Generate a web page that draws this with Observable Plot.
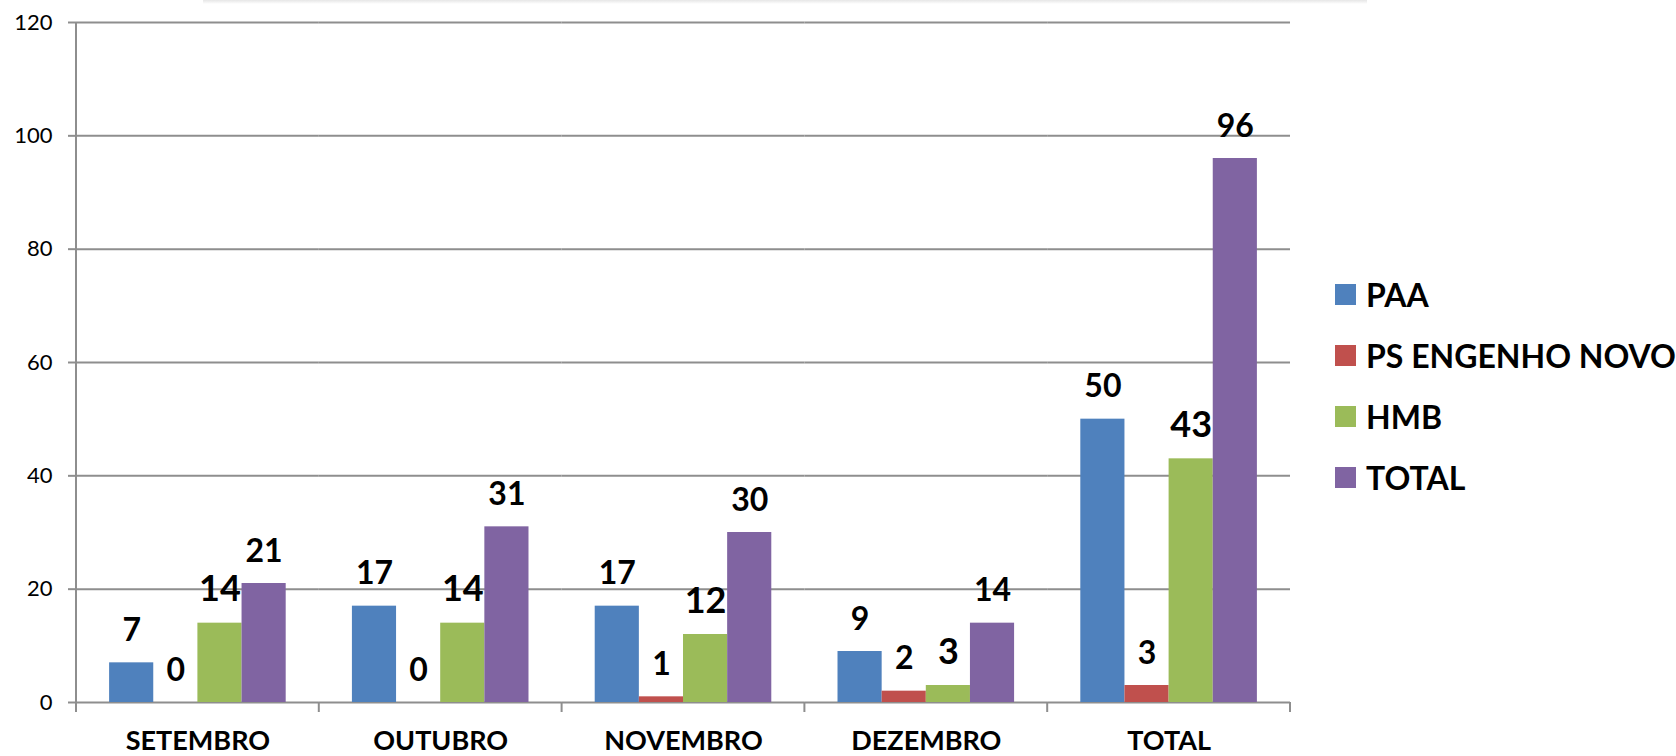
<!DOCTYPE html>
<html>
<head>
<meta charset="utf-8">
<script src="https://cdn.jsdelivr.net/npm/d3@7"></script>
<script src="https://cdn.jsdelivr.net/npm/@observablehq/plot@0.6"></script>
<style>
  html, body { margin: 0; padding: 0; background: #fff; overflow: hidden; }
  #wrap { position: relative; width: 1676px; height: 756px; font-family: Lato, "Open Sans", sans-serif; }
  #shadow { position: absolute; left: 203px; top: 0; width: 1164px; height: 4px;
            background: linear-gradient(#e6e6e6, rgba(255,255,255,0)); }
  #chart svg { display: block; }
  #legend { position: absolute; left: 1335px; top: 264px; }
  .item { display: flex; align-items: center; height: 61px; font-size: 32px; font-weight: 700; color: #000; white-space: nowrap; }
  .sw { width: 21px; height: 21px; margin-right: 10px; flex: none; }
</style>
</head>
<body>
<div id="wrap">
  <div id="chart"></div>
  <div id="shadow"></div>
  <div id="legend"></div>
</div>
<script>
const categories = ["SETEMBRO", "OUTUBRO", "NOVEMBRO", "DEZEMBRO", "TOTAL"];
const series = ["PAA", "PS ENGENHO NOVO", "HMB", "TOTAL"];
const colors = ["#4F81BD", "#C0504D", "#9BBB59", "#8064A2"];
const paa = [7, 17, 17, 9, 50];
const psEngenhoNovo = [0, 0, 1, 2, 3];
const hmb = [14, 14, 12, 3, 43];
const total = [21, 31, 30, 14, 96];
const yTicks = [0, 20, 40, 60, 80, 100, 120];

const values = [paa, psEngenhoNovo, hmb, total];
const data = categories.flatMap((c, i) =>
  series.map((s, j) => ({category: c, series: s, value: values[j][i]}))
);

const gridColor = "#8e8e8e";

const plot = Plot.plot({
  width: 1676,
  height: 756,
  marginLeft: 76,
  marginRight: 386,
  marginTop: 22,
  marginBottom: 54,
  style: {fontFamily: "Lato, 'Open Sans', sans-serif", background: "#fff", color: "#000"},
  fx: {domain: categories, padding: 0, round: false, axis: null, label: null},
  x: {domain: series, paddingInner: 0, paddingOuter: 0.75, round: false, axis: null, label: null},
  y: {domain: [0, 120], axis: null, label: null},
  color: {domain: series, range: colors},
  marks: [
    Plot.ruleY(yTicks, {stroke: gridColor, strokeWidth: 2}),
    Plot.barY(data, {fx: "category", x: "series", y: "value", fill: "series"}),
    Plot.text(data, {
      fx: "category", x: "series", y: "value",
      text: d => String(d.value),
      lineAnchor: "bottom", dy: -22,
      fontWeight: 700,
      fontSize: d => d.series === "HMB" ? 36 : 32,
      fill: "#000"
    }),
    Plot.axisY({ticks: yTicks, tickSize: 8, tickPadding: 16, fontSize: 22, stroke: gridColor, strokeWidth: 2, label: null, tickFormat: d => String(d)}),
    Plot.axisFx({anchor: "bottom", tickSize: 0, tickPadding: 28, fontSize: 27, fontWeight: 700, label: null})
  ]
});

document.getElementById("chart").appendChild(plot);

// category boundary ticks and the vertical value axis line, from the plot's own scales
const fx = plot.scale("fx");
const y = plot.scale("y");
const y0 = y.apply(0), yTop = y.apply(120);
const bounds = categories.map(c => fx.apply(c)).concat([fx.apply(categories[categories.length - 1]) + fx.bandwidth]);
const svg = d3.select(plot);
const g = svg.append("g").attr("stroke", gridColor).attr("stroke-width", 2);
g.append("line").attr("x1", bounds[0]).attr("x2", bounds[0]).attr("y1", yTop).attr("y2", y0 + 10);
bounds.slice(1).forEach(b => {
  g.append("line").attr("x1", b).attr("x2", b).attr("y1", y0).attr("y2", y0 + 10);
});

// legend
const legend = d3.select("#legend");
series.forEach((s, i) => {
  const item = legend.append("div").attr("class", "item");
  item.append("div").attr("class", "sw").style("background", colors[i]);
  item.append("span").text(s);
});
</script>
</body>
</html>
